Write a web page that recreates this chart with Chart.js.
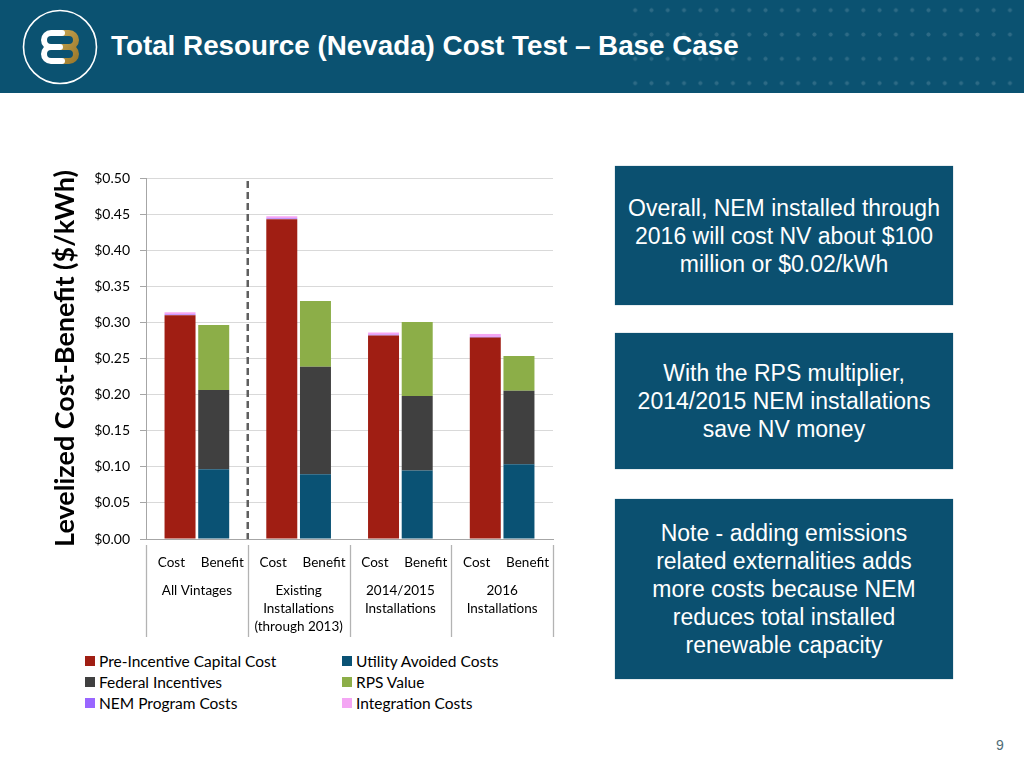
<!DOCTYPE html>
<html>
<head>
<meta charset="utf-8">
<script src="https://cdn.jsdelivr.net/npm/chart.js@4"></script>
<style>
  html, body { margin: 0; padding: 0; background: #fff; }
  body { width: 1024px; height: 768px; position: relative; overflow: hidden; font-family: Lato, sans-serif; }
  #header { position: absolute; left: 0; top: 0; width: 1024px; height: 93px; background: #0b5271; overflow: hidden; }
  #dots { position: absolute; left: 627px; top: -2px; width: 391px; height: 97px;
    background-image: radial-gradient(circle, rgba(255,255,255,0.14) 1.7px, rgba(255,255,255,0) 2.3px);
    background-size: 16.3px 24.33px; }
  #logo { position: absolute; left: 20px; top: 7px; }
  #title { position: absolute; left: 111px; top: 30px; color: #fff; font: bold 27.8px "Liberation Sans", Arial, sans-serif; white-space: nowrap; }
  #chartWrap { position: absolute; left: 0; top: 150px; width: 570px; height: 500px; }
  #legend { position: absolute; left: 85px; top: 650px; display: grid; grid-template-rows: repeat(3, 21px);
    grid-auto-flow: column; grid-template-columns: 257px 200px; font: 15.5px Lato, sans-serif; color: #000; }
  .lg { display: flex; align-items: center; white-space: nowrap; }
  .lg span.box { width: 10px; height: 10px; margin-right: 4px; display: inline-block; }
  .note { position: absolute; left: 615px; width: 338px; background: #0b5070; color: #fff;
    display: flex; align-items: center; justify-content: center; text-align: center;
    font: 23px/28px "Liberation Sans", Arial, sans-serif; box-shadow: 0 0 1px #6f97a8; }
  #page { position: absolute; left: 996px; top: 737px; font: 14px "Liberation Sans", Arial, sans-serif; color: #4f6c76; }
</style>
</head>
<body>
<div id="header">
  <div id="dots"></div>
  <svg id="logo" width="80" height="80" viewBox="20 7 80 80">
    <defs>
      <linearGradient id="gold" x1="0" y1="0" x2="1" y2="1">
        <stop offset="0" stop-color="#c9a653"/>
        <stop offset="1" stop-color="#9c7a2c"/>
      </linearGradient>
    </defs>
    <circle cx="60" cy="47" r="36.5" fill="none" stroke="#fff" stroke-width="1.6"/>
    <path d="M58 33 H69 A7 7 0 0 1 69 47 H60 M69 47 A7 7 0 0 1 69 61 H58" fill="none" stroke="url(#gold)" stroke-width="6" stroke-linecap="round"/>
    <path d="M62 33 H51 A7 7 0 0 0 51 47 H60 M51 47 A7 7 0 0 0 51 61 H62" fill="none" stroke="#fff" stroke-width="6" stroke-linecap="round"/>
  </svg>
  <div id="title">Total Resource (Nevada) Cost Test – Base Case</div>
</div>

<div id="chartWrap"><canvas id="chart" width="570" height="500"></canvas></div>
<div id="legend"></div>

<div class="note" style="top:166px;height:139px;">Overall, NEM installed through<br>2016 will cost NV about $100<br>million or $0.02/kWh</div>
<div class="note" style="top:333px;height:136px;">With the RPS multiplier,<br>2014/2015 NEM installations<br>save NV money</div>
<div class="note" style="top:499px;height:180px;">Note - adding emissions<br>related externalities adds<br>more costs because NEM<br>reduces total installed<br>renewable capacity</div>
<div id="page">9</div>

<script>
// ─── DATA ─────────────────────────────────────────────────────────────────────
const groups = [['All Vintages'], ['Existing', 'Installations', '(through 2013)'], ['2014/2015', 'Installations'], ['2016', 'Installations']];
const stackLabels = ['Cost', 'Benefit'];
const yTicks = [0, 0.05, 0.10, 0.15, 0.20, 0.25, 0.30, 0.35, 0.40, 0.45, 0.50];

// cost side
const preIncentive = [0.310, 0.443, 0.282, 0.279];
const nemProgram   = [0.001, 0.001, 0.001, 0.001];
const integration  = [0.003, 0.003, 0.003, 0.004];
// benefit side
const utilityAvoided = [0.0965, 0.0896, 0.095, 0.1035];
const federal        = [0.110, 0.149, 0.103, 0.102];
const rpsValue       = [0.090, 0.091, 0.1025, 0.048];

// ─── CHART ────────────────────────────────────────────────────────────────────
const ds = (label, data, color, stack) => ({ label, data, backgroundColor: color, stack, borderWidth: 0 });
const datasets = [
  ds('Pre-Incentive Capital Cost', preIncentive, '#a01e13', 'cost'),
  ds('NEM Program Costs', nemProgram, '#9966ff', 'cost'),
  ds('Integration Costs', integration, '#f4a6f4', 'cost'),
  ds('Utility Avoided Costs', utilityAvoided, '#0a5274', 'benefit'),
  ds('Federal Incentives', federal, '#404040', 'benefit'),
  ds('RPS Value', rpsValue, '#8cae48', 'benefit')
];
const legendOrder = [0, 4, 1, 3, 5, 2];

const extras = {
  id: 'extras',
  afterDraw(chart) {
    const { ctx, chartArea } = chart;
    const xs = chart.scales.x;
    ctx.save();
    // group separators under the axis
    ctx.strokeStyle = '#b3b3b3';
    ctx.lineWidth = 1.3;
    for (let i = 0; i <= groups.length; i++) {
      const x = Math.round(xs.getPixelForValue(i - 0.5)) + 0.5;
      ctx.beginPath();
      ctx.moveTo(x, chartArea.bottom + 6);
      ctx.lineTo(x, chartArea.bottom + 98);
      ctx.stroke();
    }
    // dashed divider after "All Vintages"
    ctx.strokeStyle = '#5f5f5f';
    ctx.lineWidth = 2.5;
    ctx.setLineDash([7, 4]);
    const xd = xs.getPixelForValue(0.5);
    ctx.beginPath();
    ctx.moveTo(xd, chartArea.top + 3);
    ctx.lineTo(xd, chartArea.bottom);
    ctx.stroke();
    ctx.setLineDash([]);
    // Cost / Benefit labels, one under each half of a group
    ctx.fillStyle = '#000';
    ctx.font = '13.5px Lato, sans-serif';
    ctx.textAlign = 'center';
    ctx.textBaseline = 'middle';
    groups.forEach((g, i) => {
      stackLabels.forEach((t, k) => ctx.fillText(t, xs.getPixelForValue(i - 0.25 + k * 0.5), chartArea.bottom + 24));
    });
    ctx.restore();
  }
};

const chart = new Chart(document.getElementById('chart'), {
  type: 'bar',
  data: { labels: groups, datasets },
  options: {
    responsive: false,
    animation: false,
    layout: { padding: { top: 28, right: 17, bottom: 14, left: 45 } },
    categoryPercentage: 0.662,
    barPercentage: 0.92,
    plugins: { legend: { display: false }, tooltip: { enabled: false } },
    scales: {
      x: {
        stacked: true,
        grid: { display: true, drawOnChartArea: false, drawTicks: true, tickLength: 43, tickColor: 'rgba(0,0,0,0)' },
        border: { display: true, color: '#a6a6a6', width: 1 },
        ticks: { color: '#000', padding: 0, font: { family: 'Lato', size: 13.5, lineHeight: '18px' }, maxRotation: 0, autoSkip: false },
        afterFit(s) { s.height = 97; }
      },
      y: {
        stacked: true,
        min: 0, max: 0.5,
        afterBuildTicks(s) { s.ticks = yTicks.map(v => ({ value: v })); },
        grid: { color: '#d9d9d9', tickColor: '#a6a6a6', tickLength: 6 },
        border: { display: true, color: '#a6a6a6', width: 1 },
        ticks: { color: '#000', padding: 10, font: { family: 'Lato', size: 14 }, callback: v => '$' + v.toFixed(2) },
        title: { display: true, text: 'Levelized Cost-Benefit ($/kWh)', color: '#000', padding: { top: 4, bottom: 0 }, font: { family: 'Lato', size: 27, weight: 'bold', lineHeight: 1.2 } },
        afterFit(s) { s.width = 101; }
      }
    }
  },
  plugins: [extras]
});

// ─── LEGEND ───────────────────────────────────────────────────────────────────
const lg = document.getElementById('legend');
legendOrder.forEach(i => {
  const d = chart.data.datasets[i];
  const el = document.createElement('div');
  el.className = 'lg';
  el.innerHTML = `<span class="box" style="background:${d.backgroundColor}"></span>${d.label}`;
  lg.appendChild(el);
});
</script>
</body>
</html>
